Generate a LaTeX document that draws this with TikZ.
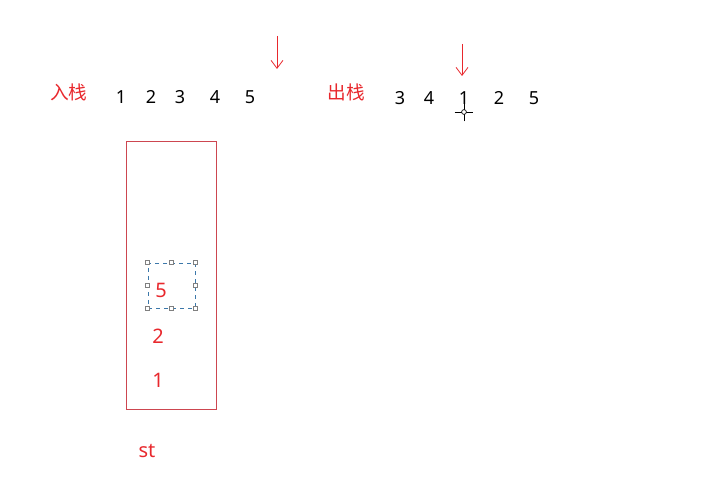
\documentclass[tikz,border=0pt]{standalone}
\usepackage{fontspec}
\setmainfont{Noto Sans}
\newfontfamily\cjk{Noto Sans CJK SC}
\usetikzlibrary{arrows.meta}
\definecolor{myred}{RGB}{232,40,45}
\definecolor{boxred}{RGB}{205,70,80}
\definecolor{selblue}{RGB}{60,120,170}
\begin{document}
\begin{tikzpicture}[x=0.75pt,y=-0.75pt,
  lbl/.style={text=myred,font=\cjk\fontsize{14}{16}\selectfont,inner sep=0pt,anchor=center},
  num/.style={text=black,font=\fontsize{13.5}{16}\selectfont,inner sep=0pt,anchor=center},
  rnum/.style={text=myred,font=\fontsize{15}{17}\selectfont,inner sep=0pt,anchor=center},
  ptr/.style={draw=myred,line width=0.6pt,-{Straight Barb[length=6pt,width=9pt]}},
  handle/.style={draw=gray,fill=white,line width=0.4pt,minimum size=3pt,inner sep=0pt,rectangle}]
\useasboundingbox (0,0) rectangle (708,481);
\node[lbl] (in) at (69,92) {入栈};
\node[num] (a1) at (121,97) {1};
\node[num] (a2) at (151,97) {2};
\node[num] (a3) at (180,97) {3};
\node[num] (a4) at (215,97) {4};
\node[num] (a5) at (250,97) {5};
\coordinate (p1s) at (277,36);
\coordinate (p1e) at (277,69);
\draw[ptr] (p1s) -- (p1e);
\node[lbl] (out) at (346,92) {出栈};
\node[num] (b1) at (400,98) {3};
\node[num] (b2) at (429,98) {4};
\node[num] (b3) at (464,98) {1};
\node[num] (b4) at (499,98) {2};
\node[num] (b5) at (534,98) {5};
\coordinate (p2s) at (462,44);
\coordinate (p2e) at (462,76);
\draw[ptr] (p2s) -- (p2e);
% cursor
\coordinate (cur) at (464,112);
\draw[black,line width=0.5pt] ([xshift=-7pt]cur) -- ([xshift=7pt]cur) ([yshift=-7pt]cur) -- ([yshift=7pt]cur);
\draw[black,fill=white,line width=0.5pt] (cur) circle (1.8pt);
% stack
\node[draw=boxred,line width=0.6pt,minimum width=67.5pt,minimum height=201pt,inner sep=0pt] (st) at (171,275) {};
\node[draw=selblue,dashed,line width=0.5pt,minimum width=35.25pt,minimum height=33.75pt,inner sep=0pt] (sel) at (171.5,285.5) {};
\foreach \a in {north west,north,north east,east,south east,south,south west,west}
  \node[handle] at (sel.\a) {};
\node[rnum] (s5) at (161,290) {5};
\node[rnum] (s2) at (158,336) {2};
\node[rnum] (s1) at (158,380) {1};
\node[rnum] (stl) at (147,451) {st};
\end{tikzpicture}
\end{document}
